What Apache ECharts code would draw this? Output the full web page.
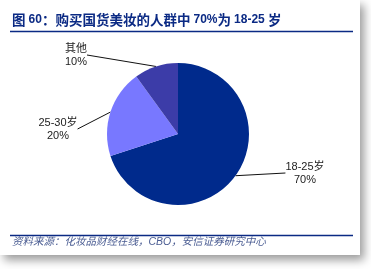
<!DOCTYPE html>
<html><head><meta charset="utf-8">
<script src="https://cdn.jsdelivr.net/npm/echarts@6/dist/echarts.min.js"></script>
<style>html,body{margin:0;padding:0;background:#fff}#c{width:371px;height:269px}</style>
</head><body><div id="c"></div>
<script>
const titleParts = [['c', '图 '], ['l', '60'], ['c', '：购买国货美妆的人群中 '], ['l', '70%'], ['c', '为 '], ['l', '18-25 '], ['c', '岁']];
const sourceText = '资料来源：化妆品财经在线，CBO，安信证券研究中心';
const categories = ['18-25岁', '25-30岁', '其他'];
const values = [70, 20, 10];
const colors = ['#002A8C', '#7878FF', '#3C3CA8'];
const labelPos = [[305, 173], [58, 129], [76, 55]];

const chart = echarts.init(document.getElementById('c'), null, {renderer: 'canvas'});
chart.setOption({
  animation: false,
  graphic: [
    {type: 'rect', z: -10, shape: {x: 0, y: 0, width: 360, height: 255},
     style: {fill: '#fff', shadowBlur: 9, shadowOffsetX: 4, shadowOffsetY: 5, shadowColor: 'rgba(0,0,0,0.4)'}},
    {type: 'text', left: 12, top: 13, style: {
      text: titleParts.map(p => '{' + p[0] + '|' + p[1] + '}').join(''),
      rich: {
        c: {fill: '#0B2A84', font: 'bold 13.5px "Noto Sans CJK SC", sans-serif'},
        l: {fill: '#0B2A84', font: 'bold 12px "Liberation Sans", sans-serif'}
      }}},
    {type: 'line', shape: {x1: 10, y1: 31.5, x2: 353, y2: 31.5}, style: {stroke: '#0B2A84', lineWidth: 1.5}},
    {type: 'line', shape: {x1: 10, y1: 235.5, x2: 353, y2: 235.5}, style: {stroke: '#0B2A84', lineWidth: 1.5}},
    {type: 'text', left: 12, top: 237, style: {text: sourceText, fill: '#4A5C92',
      font: 'italic 10.5px "Liberation Sans", "Noto Sans CJK SC", sans-serif'}}
  ],
  series: [{
    type: 'pie',
    center: [178, 134],
    radius: 71,
    startAngle: 90,
    clockwise: true,
    data: categories.map((n, i) => ({name: n, value: values[i], itemStyle: {color: colors[i]}})),
    label: {
      formatter: p => p.name + '\n' + p.value + '%',
      color: '#222', fontSize: 11, lineHeight: 13, align: 'center',
      fontFamily: '"Liberation Sans", "Noto Sans CJK SC", sans-serif'
    },
    labelLine: {show: true, length: 0, length2: 0, lineStyle: {color: '#111', width: 1}},
    labelLayout: p => ({x: labelPos[p.dataIndex][0], y: labelPos[p.dataIndex][1], align: 'center', verticalAlign: 'middle'})
  }]
});
</script></body></html>
